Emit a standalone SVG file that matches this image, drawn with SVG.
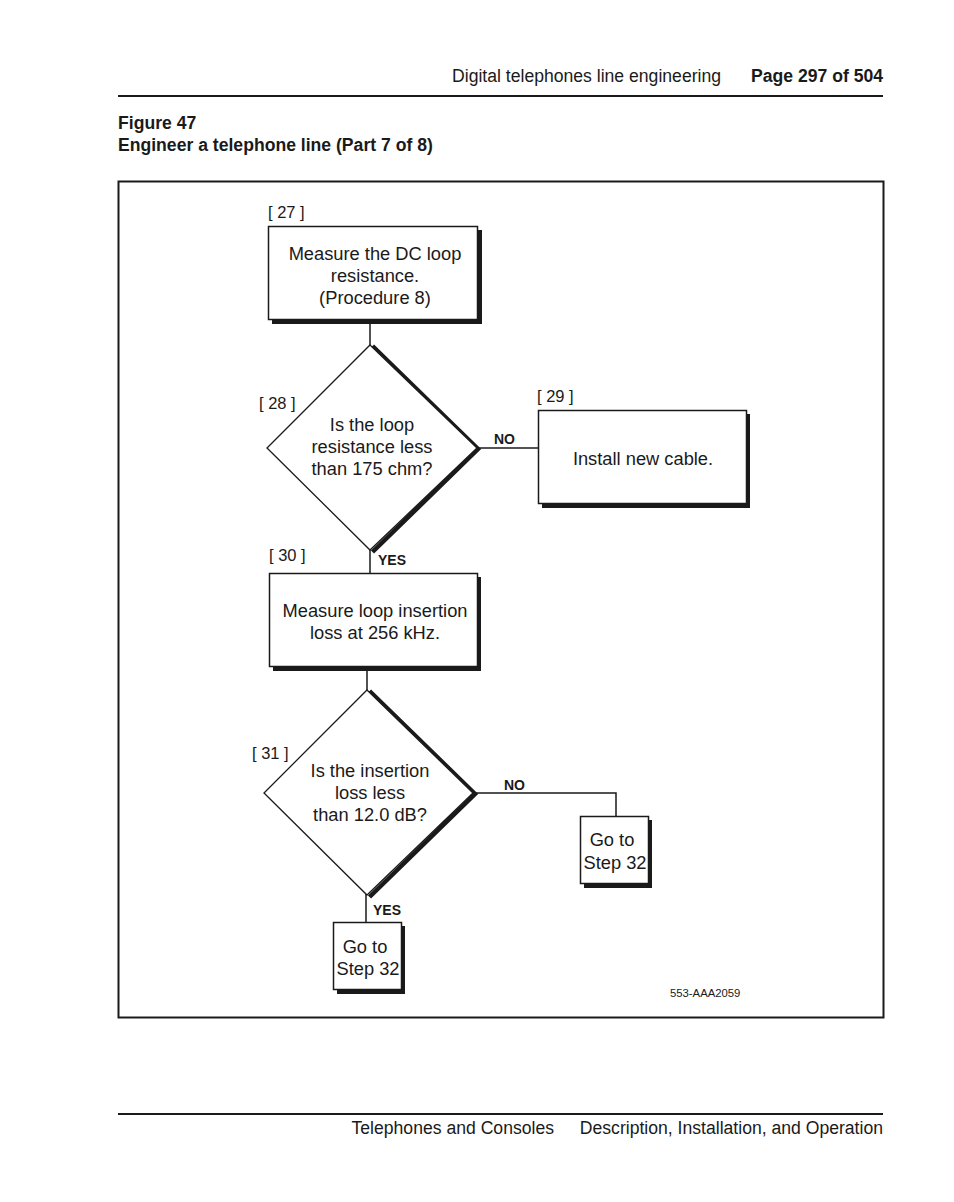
<svg xmlns="http://www.w3.org/2000/svg" width="954" height="1202" viewBox="0 0 954 1202">
<style>
text{font-family:"Liberation Sans",Arial,sans-serif;fill:#1a1a1a}
.hdr{font-size:17.6px}
.hb{font-size:17.6px;font-weight:bold}
.t{font-size:18.3px;text-anchor:middle}
.lbl{font-size:16.5px}
.yn{font-size:14px;font-weight:bold}
.box{fill:#fff;stroke:#1a1a1a;stroke-width:1.5}
.sh{fill:#1a1a1a}
.dia{fill:#fff;stroke:#1a1a1a;stroke-width:1.3}
.dsh{fill:none;stroke:#1a1a1a;stroke-width:4.5}
.ln{fill:none;stroke:#1a1a1a;stroke-width:1.5}
</style>
<rect width="954" height="1202" fill="#fff"/>
<g id="header">
<text class="hdr" x="721" y="82" text-anchor="end">Digital telephones line engineering</text>
<text class="hb" x="883" y="82" text-anchor="end">Page 297 of 504</text>
<line x1="118" y1="96" x2="883" y2="96" stroke="#1a1a1a" stroke-width="2"/>
<text class="hb" x="118" y="129">Figure 47</text>
<text class="hb" x="118" y="151">Engineer a telephone line (Part 7 of 8)</text>
</g>
<g id="frame">
<rect x="118.5" y="181.5" width="765" height="836" fill="none" stroke="#1a1a1a" stroke-width="2"/>
</g>
<g id="connectors">
<line class="ln" x1="370" y1="320" x2="370" y2="345"/>
<line class="ln" x1="477" y1="448" x2="538" y2="448"/>
<line class="ln" x1="370" y1="550" x2="370" y2="573"/>
<line class="ln" x1="367" y1="668" x2="367" y2="691"/>
<polyline class="ln" points="473,793 616,793 616,816"/>
<line class="ln" x1="366" y1="894" x2="366" y2="922"/>
<text class="yn" x="494" y="444">NO</text>
<text class="yn" x="378" y="565">YES</text>
<text class="yn" x="504" y="790">NO</text>
<text class="yn" x="373" y="915">YES</text>
</g>
<g id="n27">
<text class="lbl" x="268" y="218">[ 27 ]</text>
<rect class="sh" x="272" y="230" width="210" height="94"/>
<rect class="box" x="268.5" y="226.5" width="209" height="93"/>
<text class="t" x="375" y="260">Measure the DC loop</text>
<text class="t" x="375" y="282">resistance.</text>
<text class="t" x="375" y="304">(Procedure 8)</text>
</g>
<g id="n28">
<text class="lbl" x="259" y="409">[ 28 ]</text>
<polyline class="dsh" points="372.5,346 478,449 372.5,552"/>
<polygon class="dia" points="370,345 477,448 370,550 267,448"/>
<text class="t" x="372" y="431">Is the loop</text>
<text class="t" x="372" y="453">resistance less</text>
<text class="t" x="372" y="475">than 175 chm?</text>
</g>
<g id="n29">
<text class="lbl" x="537" y="402">[ 29 ]</text>
<rect class="sh" x="542" y="414" width="208" height="94"/>
<rect class="box" x="538.5" y="410.5" width="208" height="93"/>
<text class="t" x="643" y="465">Install new cable.</text>
</g>
<g id="n30">
<text class="lbl" x="269" y="561">[ 30 ]</text>
<rect class="sh" x="273" y="577" width="208" height="94"/>
<rect class="box" x="269.5" y="573.5" width="208" height="93"/>
<text class="t" x="375" y="617">Measure loop insertion</text>
<text class="t" x="375" y="639">loss at 256 kHz.</text>
</g>
<g id="n31">
<text class="lbl" x="252" y="759">[ 31 ]</text>
<polyline class="dsh" points="369.5,691 475,794 369.5,897"/>
<polygon class="dia" points="367,690 473,793 367,895 264,793"/>
<text class="t" x="370" y="777">Is the insertion</text>
<text class="t" x="370" y="799">loss less</text>
<text class="t" x="370" y="821">than 12.0 dB?</text>
</g>
<g id="n32a">
<rect class="sh" x="584" y="820" width="68" height="68"/>
<rect class="box" x="580.5" y="816.5" width="68" height="67"/>
<text class="t" x="612" y="846">Go to</text>
<text class="t" x="615" y="869">Step 32</text>
</g>
<g id="n32b">
<rect class="sh" x="337" y="926" width="68" height="68"/>
<rect class="box" x="333.5" y="922.5" width="68" height="67"/>
<text class="t" x="365" y="953">Go to</text>
<text class="t" x="368" y="975">Step 32</text>
</g>
<text x="670" y="997" font-size="11.3">553-AAA2059</text>
<g id="footer">
<line x1="118" y1="1114" x2="883" y2="1114" stroke="#1a1a1a" stroke-width="2"/>
<text class="hdr" x="554" y="1134" text-anchor="end">Telephones and Consoles</text>
<text class="hdr" x="883" y="1134" text-anchor="end">Description, Installation, and Operation</text>
</g>
</svg>
